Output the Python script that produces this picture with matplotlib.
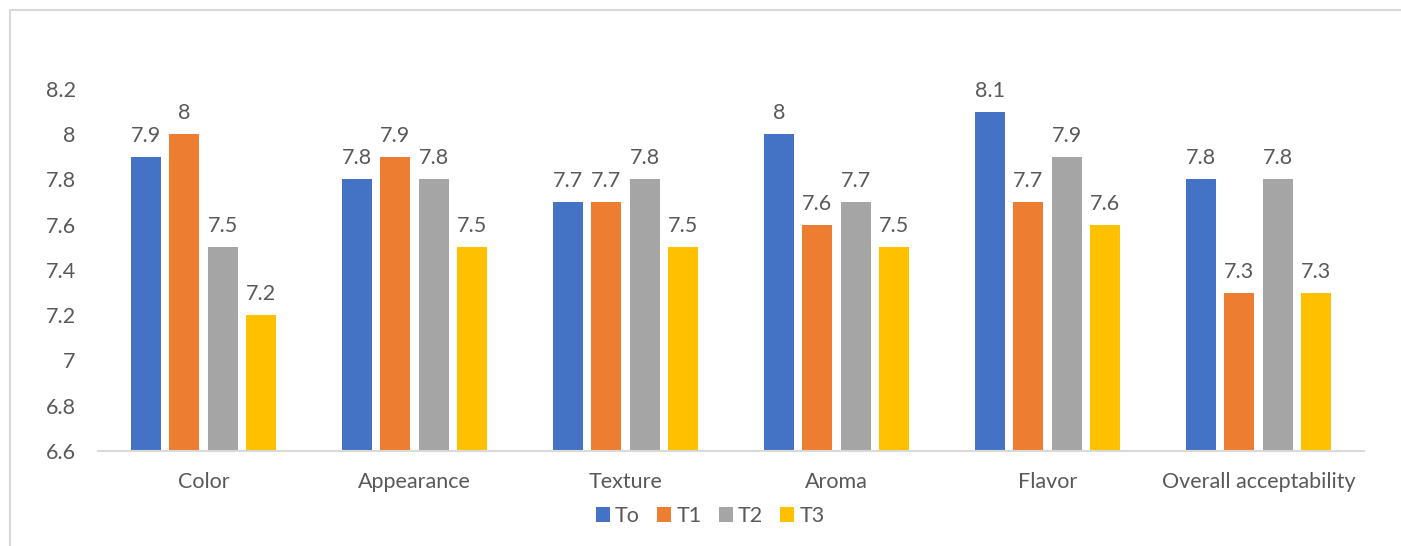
import matplotlib.pyplot as plt
import numpy as np

plt.rcParams['font.family'] = ['Lato', 'DejaVu Sans']

categories = ['Color', 'Appearance', 'Texture', 'Aroma', 'Flavor', 'Overall acceptability']
series = ['To', 'T1', 'T2', 'T3']
to = [7.9, 7.8, 7.7, 8.0, 8.1, 7.8]
t1 = [8.0, 7.9, 7.7, 7.6, 7.7, 7.3]
t2 = [7.5, 7.8, 7.8, 7.7, 7.9, 7.8]
t3 = [7.2, 7.5, 7.5, 7.5, 7.6, 7.3]
yticks = [6.6, 6.8, 7.0, 7.2, 7.4, 7.6, 7.8, 8.0, 8.2]
ytick_labels = ['6.6', '6.8', '7', '7.2', '7.4', '7.6', '7.8', '8', '8.2']

colors = ['#4472C4', '#ED7D31', '#A5A5A5', '#FFC000']
text_c = '#595959'
fs = 15.5

fig = plt.figure(figsize=(14.01, 5.46), dpi=100)
ax = fig.add_axes([0.07, 0.174, 0.9036, 0.663])

x = np.arange(len(categories))
step = 0.182
width = 0.142
base = 6.6
for i, (name, vals) in enumerate(zip(series, [to, t1, t2, t3])):
    pos = x + (i - 1.5) * step
    heights = [v - base for v in vals]
    ax.bar(pos, heights, width, bottom=base, color=colors[i], label=name, zorder=2)
    for p, v in zip(pos, vals):
        lab = ('%.1f' % v).rstrip('0').rstrip('.')
        ax.annotate(lab, (p, v), xytext=(0, 8), textcoords='offset points',
                    ha='center', va='bottom', fontsize=fs, color=text_c)

ax.set_xlim(-0.5, len(categories) - 0.5)
ax.set_ylim(6.6, 8.2)
ax.set_yticks(yticks)
ax.set_yticklabels(ytick_labels)
ax.set_xticks(x)
ax.set_xticklabels(categories)
ax.tick_params(axis='both', length=0, labelsize=fs, colors=text_c)
ax.tick_params(axis='x', pad=15)
ax.tick_params(axis='y', pad=16)
for s in ['top', 'right', 'left']:
    ax.spines[s].set_visible(False)
ax.spines['bottom'].set_color('#D9D9D9')
ax.spines['bottom'].set_linewidth(1.5)

leg = fig.legend(loc='center', bbox_to_anchor=(0.507, 0.055), ncol=4, frameon=False,
                 fontsize=fs, handlelength=0.65, handleheight=0.65, handletextpad=0.25,
                 columnspacing=0.8)
for t in leg.get_texts():
    t.set_color(text_c)

# chart border (top and left edges visible)
fig.add_artist(plt.Line2D([0.0071, 1.0], [0.9817, 0.9817], transform=fig.transFigure,
                          color='#D9D9D9', lw=1.5))
fig.add_artist(plt.Line2D([0.0071, 0.0071], [0.0, 0.9817], transform=fig.transFigure,
                          color='#D9D9D9', lw=1.5))

fig.savefig('out.png', dpi=100)
